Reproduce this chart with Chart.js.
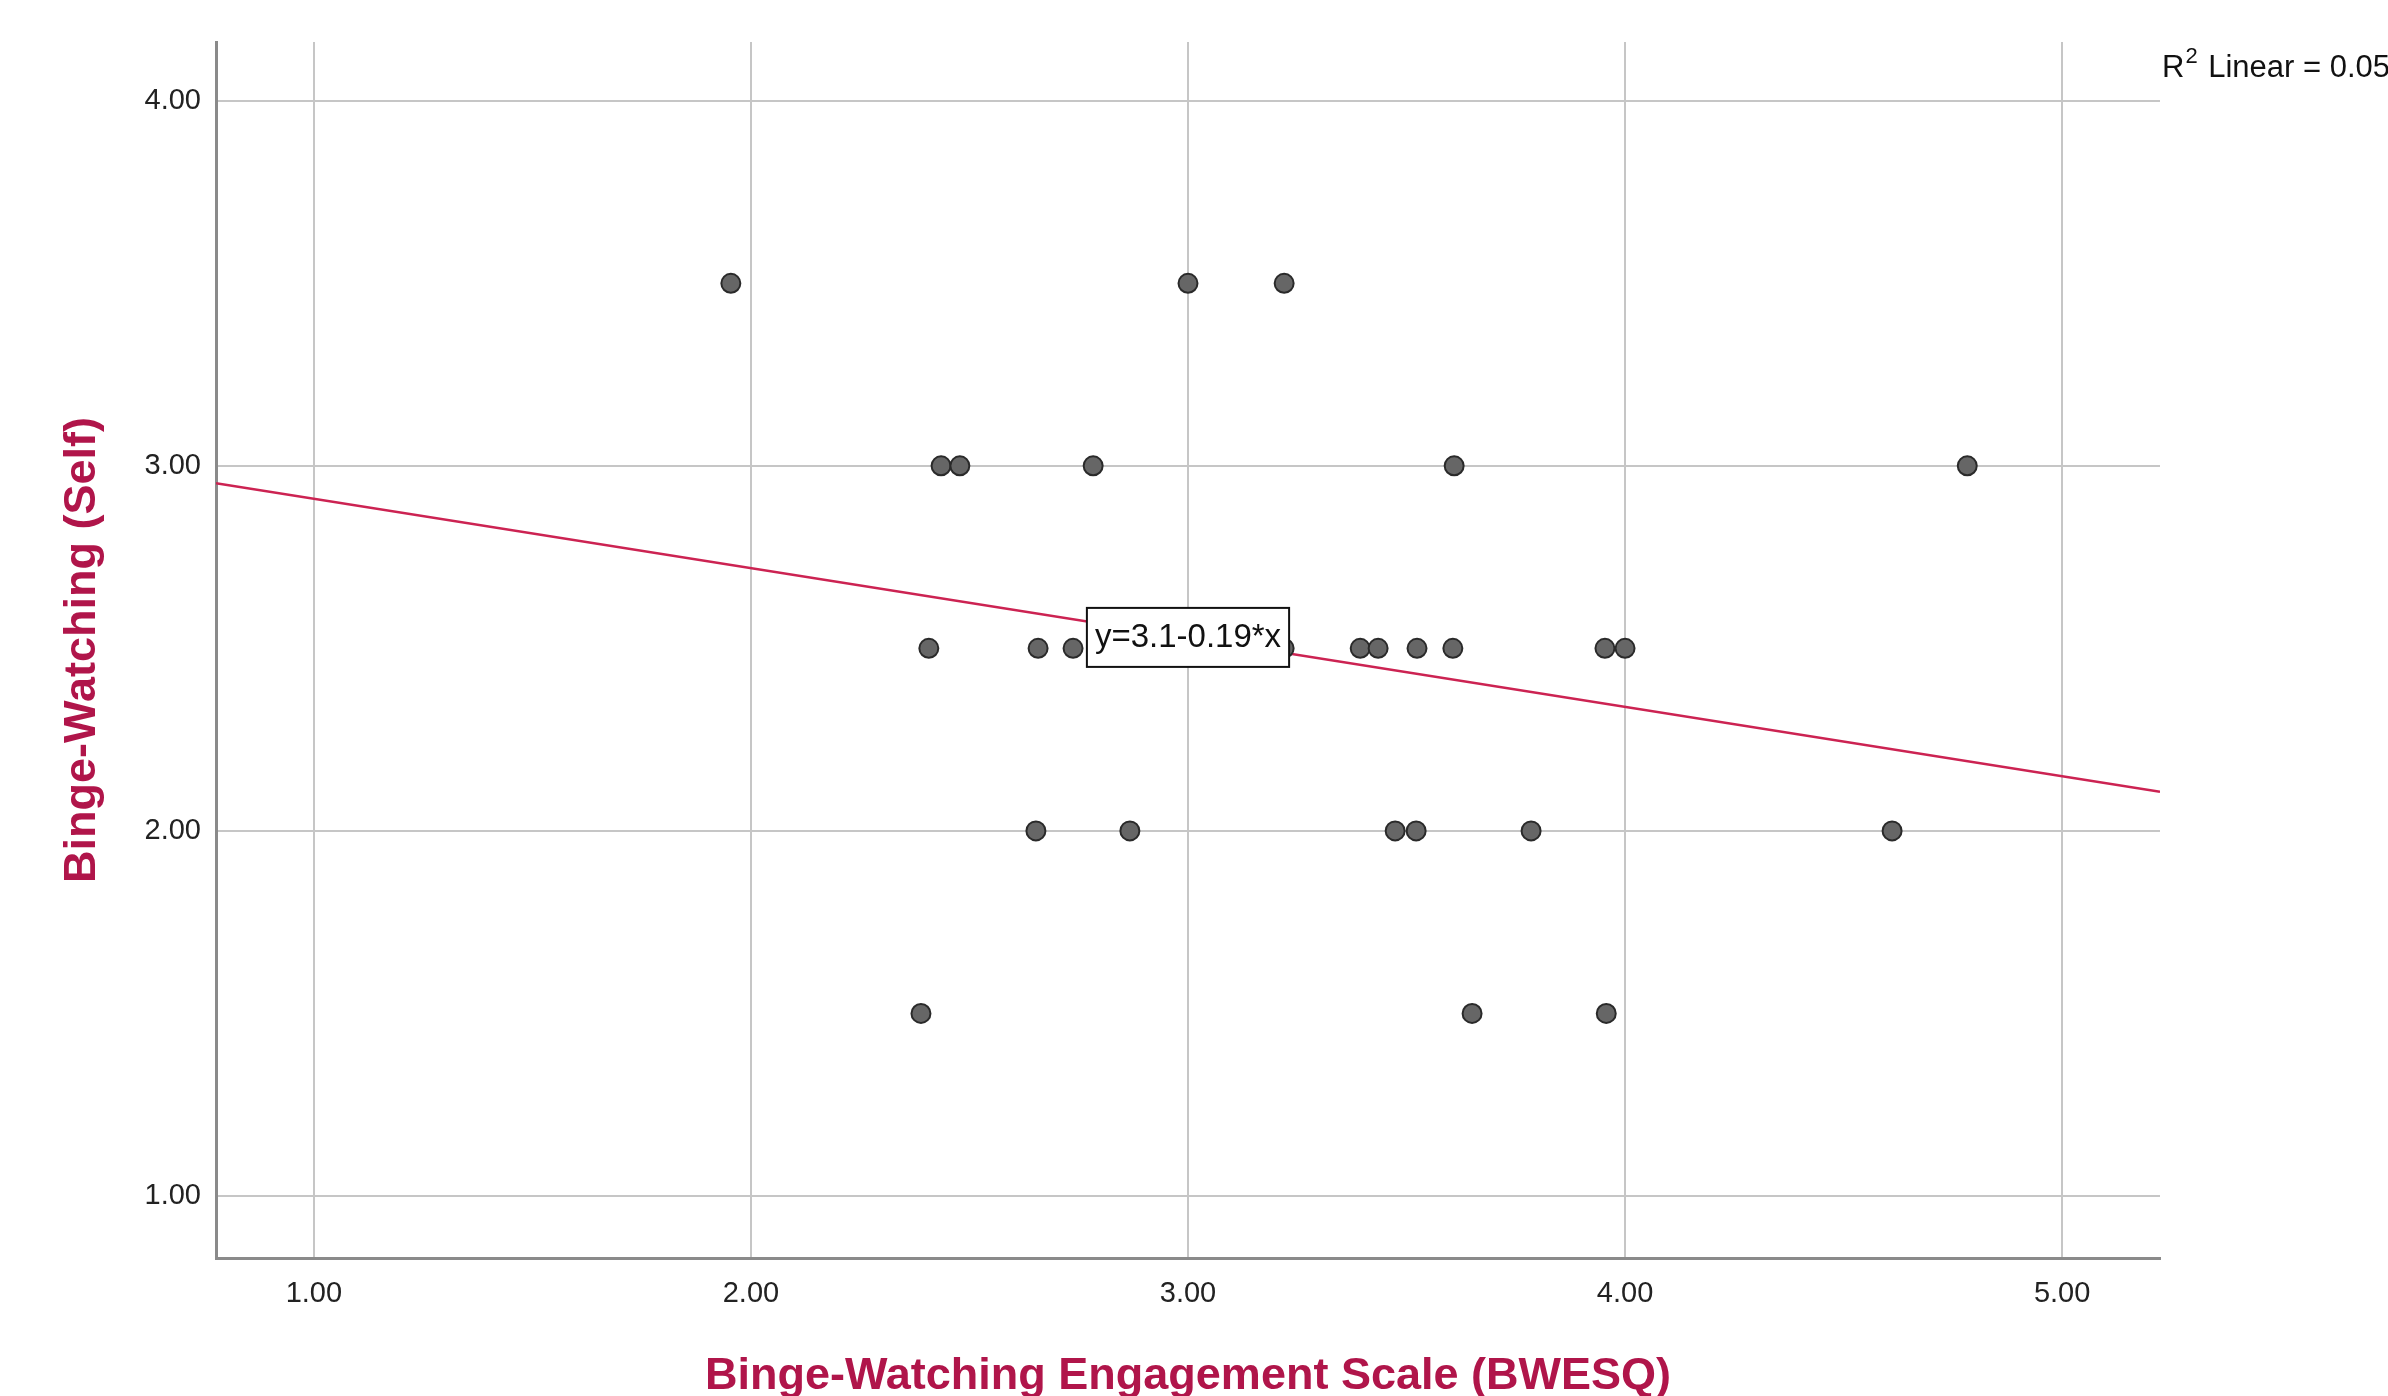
<!DOCTYPE html>
<html>
<head>
<meta charset="utf-8">
<script src="https://cdn.jsdelivr.net/npm/chart.js@4.4.0/dist/chart.umd.min.js"></script>
<style>
    html, body { margin: 0; padding: 0; background: #ffffff; }
    #wrap { width: 2388px; height: 1396px; }
</style>
</head>
<body>
<div id="wrap"><canvas id="scatterChart" width="2388" height="1396"></canvas></div>
<script>
// BWESQ score and self-rated binge-watching, one entry per respondent
const bwesq = [
    1.954, 3.0, 3.22,
    2.435, 2.478, 2.783, 3.609, 4.783,
    2.407, 2.657, 2.737, 3.22, 3.394, 3.435, 3.524, 3.606, 3.954, 4.0,
    2.652, 2.867, 3.474, 3.522, 3.785, 4.611,
    2.389, 3.65, 3.957
];
const selfRating = [
    3.5, 3.5, 3.5,
    3.0, 3.0, 3.0, 3.0, 3.0,
    2.5, 2.5, 2.5, 2.5, 2.5, 2.5, 2.5, 2.5, 2.5, 2.5,
    2.0, 2.0, 2.0, 2.0, 2.0, 2.0,
    1.5, 1.5, 1.5
];

// tick values on both axes
const xTicks = [1, 2, 3, 4, 5];
const yTicks = [1, 2, 3, 4];

// linear fit: y = 3.1 - 0.19 * x
const fitIntercept = 3.1;
const fitSlope = -0.19;
const rSquared = 0.057;
const fitEnds = [0.776, 5.224];

const font = '"Liberation Sans", Arial, sans-serif';
const titleColor = '#b0154a';

const points = bwesq.map((v, i) => ({ x: v, y: selfRating[i] }));
const fitLine = fitEnds.map(v => ({ x: v, y: fitIntercept + fitSlope * v }));

// equation box on the fit line and the R² note in the top right
const fitLabels = {
    id: 'fitLabels',
    afterDatasetsDraw(chart) {
        const { ctx, chartArea, scales: { x, y } } = chart;
        ctx.save();

        const eq = 'y=' + fitIntercept + (fitSlope < 0 ? '-' : '+') + Math.abs(fitSlope) + '*x';
        ctx.font = '33px ' + font;
        const w = ctx.measureText(eq).width + 16;
        const h = 59;
        const cx = x.getPixelForValue(3);
        const cy = y.getPixelForValue(fitIntercept + fitSlope * 3);
        ctx.fillStyle = '#ffffff';
        ctx.fillRect(cx - w / 2, cy - h / 2, w, h);
        ctx.strokeStyle = '#111111';
        ctx.lineWidth = 2;
        ctx.strokeRect(cx - w / 2, cy - h / 2, w, h);
        ctx.fillStyle = '#111111';
        ctx.textAlign = 'center';
        ctx.textBaseline = 'middle';
        ctx.fillText(eq, cx, cy + 1);

        let tx = chartArea.right + 2;
        const base = 77;
        ctx.textAlign = 'left';
        ctx.textBaseline = 'alphabetic';
        ctx.font = '31px ' + font;
        ctx.fillText('R', tx, base);
        tx += ctx.measureText('R').width + 1;
        ctx.font = '22px ' + font;
        ctx.fillText('2', tx, base - 14);
        tx += ctx.measureText('2').width + 2;
        ctx.font = '31px ' + font;
        ctx.fillText(' Linear = ' + rSquared.toFixed(3), tx, base);

        ctx.restore();
    }
};

const config = {
    type: 'scatter',
    data: {
        datasets: [
            {
                label: 'Observed',
                data: points,
                pointRadius: 9.5,
                pointBackgroundColor: '#666666',
                pointBorderColor: '#2a2a2a',
                pointBorderWidth: 2,
                order: 1
            },
            {
                type: 'line',
                label: 'Linear fit',
                data: fitLine,
                borderColor: '#cc2352',
                borderWidth: 2.5,
                pointRadius: 0,
                fill: false,
                order: 2
            }
        ]
    },
    options: {
        responsive: false,
        animation: false,
        layout: {
            padding: { top: 42, right: 228, left: 0, bottom: 0 }
        },
        plugins: {
            legend: { display: false },
            tooltip: { enabled: false }
        },
        scales: {
            x: {
                type: 'linear',
                min: 0.776,
                max: 5.224,
                afterBuildTicks: s => { s.ticks = xTicks.map(v => ({ value: v })); },
                afterFit: s => { s.height = 138; },
                grid: { color: '#c6c6c6', lineWidth: 2, drawTicks: false },
                border: { display: true, color: '#8a8a8a', width: 3 },
                ticks: {
                    padding: 19,
                    color: '#222222',
                    font: { family: font, size: 29 },
                    callback: v => Number(v).toFixed(2)
                },
                title: {
                    display: true,
                    text: 'Binge-Watching Engagement Scale (BWESQ)',
                    color: titleColor,
                    padding: { top: 0, bottom: 0 },
                    font: { family: font, size: 45, weight: 'bold', lineHeight: 0.87 }
                }
            },
            y: {
                type: 'linear',
                min: 0.83,
                max: 4.161,
                afterBuildTicks: s => { s.ticks = yTicks.map(v => ({ value: v })); },
                afterFit: s => { s.width = 216; },
                grid: { color: '#c6c6c6', lineWidth: 2, drawTicks: false },
                border: { display: true, color: '#8a8a8a', width: 3 },
                ticks: {
                    padding: 15,
                    color: '#222222',
                    font: { family: font, size: 29 },
                    callback: v => Number(v).toFixed(2)
                },
                title: {
                    display: true,
                    text: 'Binge-Watching (Self)',
                    color: titleColor,
                    padding: { top: 56, bottom: 0 },
                    font: { family: font, size: 45, weight: 'bold', lineHeight: 1.2 }
                }
            }
        }
    },
    plugins: [fitLabels]
};

const scatterChart = new Chart(document.getElementById('scatterChart'), config);
</script>
</body>
</html>
